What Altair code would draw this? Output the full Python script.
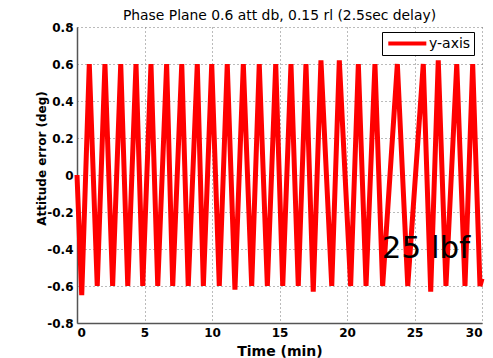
import altair as alt
import pandas as pd

# Peaks and troughs of the attitude error (time in minutes, error in degrees)
peak_times = [0.91, 2.07, 3.24, 4.37, 5.48, 6.64, 7.76, 8.91, 9.98, 11.13, 12.32, 13.50,
              14.72, 15.85, 16.96, 18.07, 19.43, 20.84, 22.07, 23.73, 25.65, 26.76, 28.13, 29.31]
peak_vals = [0.60, 0.60, 0.60, 0.60, 0.60, 0.60, 0.60, 0.60, 0.60, 0.60, 0.60, 0.60,
             0.60, 0.60, 0.60, 0.62, 0.62, 0.60, 0.60, 0.60, 0.60, 0.62, 0.60, 0.60]
trough_times = [0.35, 1.50, 2.64, 3.76, 4.87, 5.98, 7.09, 8.24, 9.36, 10.54, 11.70, 12.94,
                14.10, 15.24, 16.39, 17.50, 18.87, 20.27, 21.41, 22.64, 24.50, 26.20, 27.33,
                28.74, 29.85]
trough_vals = [-0.65, -0.60, -0.60, -0.60, -0.60, -0.60, -0.60, -0.60, -0.60, -0.60, -0.62,
               -0.60, -0.60, -0.60, -0.60, -0.63, -0.60, -0.60, -0.60, -0.60, -0.60, -0.63,
               -0.60, -0.60, -0.60]
start_point = (0.0, 0.0)
end_point = (30.0, -0.56)

x_ticks = [0, 5, 10, 15, 20, 25, 30]
y_ticks = [-0.8, -0.6, -0.4, -0.2, 0, 0.2, 0.4, 0.6, 0.8]

annot_text = ["25 lbf"]
annot_x = [22.57]
annot_y = [-0.45]

pts = [start_point] + list(zip(peak_times, peak_vals)) + list(zip(trough_times, trough_vals)) + [end_point]
pts.sort(key=lambda p: p[0])
df = pd.DataFrame({"t": [p[0] for p in pts], "err": [p[1] for p in pts]})
df["series"] = "y-axis"
df["order"] = range(len(df))

ann_df = pd.DataFrame({"t": annot_x, "err": annot_y, "label": annot_text})

FONT = "DejaVu Sans"

x_enc = alt.X("t:Q", scale=alt.Scale(domain=[0, 30], nice=False),
              axis=alt.Axis(values=x_ticks, title="Time (min)", format="d",
                            titleY=32, titleBaseline="alphabetic",
                            titleFontSize=14, titleFontWeight="bold"))
y_enc = alt.Y("err:Q", scale=alt.Scale(domain=[-0.8, 0.8], nice=False),
              axis=alt.Axis(values=y_ticks, title="Attitude error (deg)", labelOverlap=False,
                            labelExpr="datum.value == 0 ? '0' : replace(format(datum.value, '.1f'), '\u2212', '-')",
                            titleX=-32, titleY=131, titleAngle=-90, titleAlign="center",
                            titleBaseline="alphabetic", titleFontSize=12,
                            titleFontWeight="bold"))

line = alt.Chart(df).mark_line(strokeWidth=5, strokeJoin="bevel").encode(
    x=x_enc,
    y=y_enc,
    order="order:Q",
    color=alt.Color("series:N", scale=alt.Scale(domain=["y-axis"], range=["#ff0000"]),
                    legend=alt.Legend(orient="none", legendX=305, legendY=5, title=None,
                                      strokeColor="black", fillColor="white", padding=3,
                                      symbolType="M-0.8,0H5.05", symbolStrokeWidth=4,
                                      symbolSize=169, labelFont=FONT, labelFontSize=14,
                                      labelColor="black", cornerRadius=0, labelOffset=27)),
)

ann = alt.Chart(ann_df).mark_text(
    font=FONT, fontSize=31, align="left", baseline="alphabetic", color="black"
).encode(x=x_enc, y=y_enc, text="label:N")

chart = alt.layer(line, ann).properties(
    width=405, height=296,
    title=alt.TitleParams("Phase Plane 0.6 att db, 0.15 rl (2.5sec delay)", font=FONT,
                          fontSize=13.9, fontWeight="normal", color="black",
                          anchor="middle", baseline="alphabetic", offset=9, dy=22),
    padding={"left": 77, "top": 27, "right": 11, "bottom": 35},
    autosize="none",
    background="white",
).configure_view(stroke=None).configure_axis(
    labelFont=FONT, labelFontSize=12, labelFontWeight="bold", labelColor="black",
    titleFont=FONT, titleColor="black",
    grid=True, gridColor="#777777", gridDash=[1, 3], gridWidth=1,
    domainColor="#555555", domainWidth=1.5, ticks=False, labelPadding=4,
)

chart.save("out.html", embed_options={"renderer": "svg", "actions": False})
